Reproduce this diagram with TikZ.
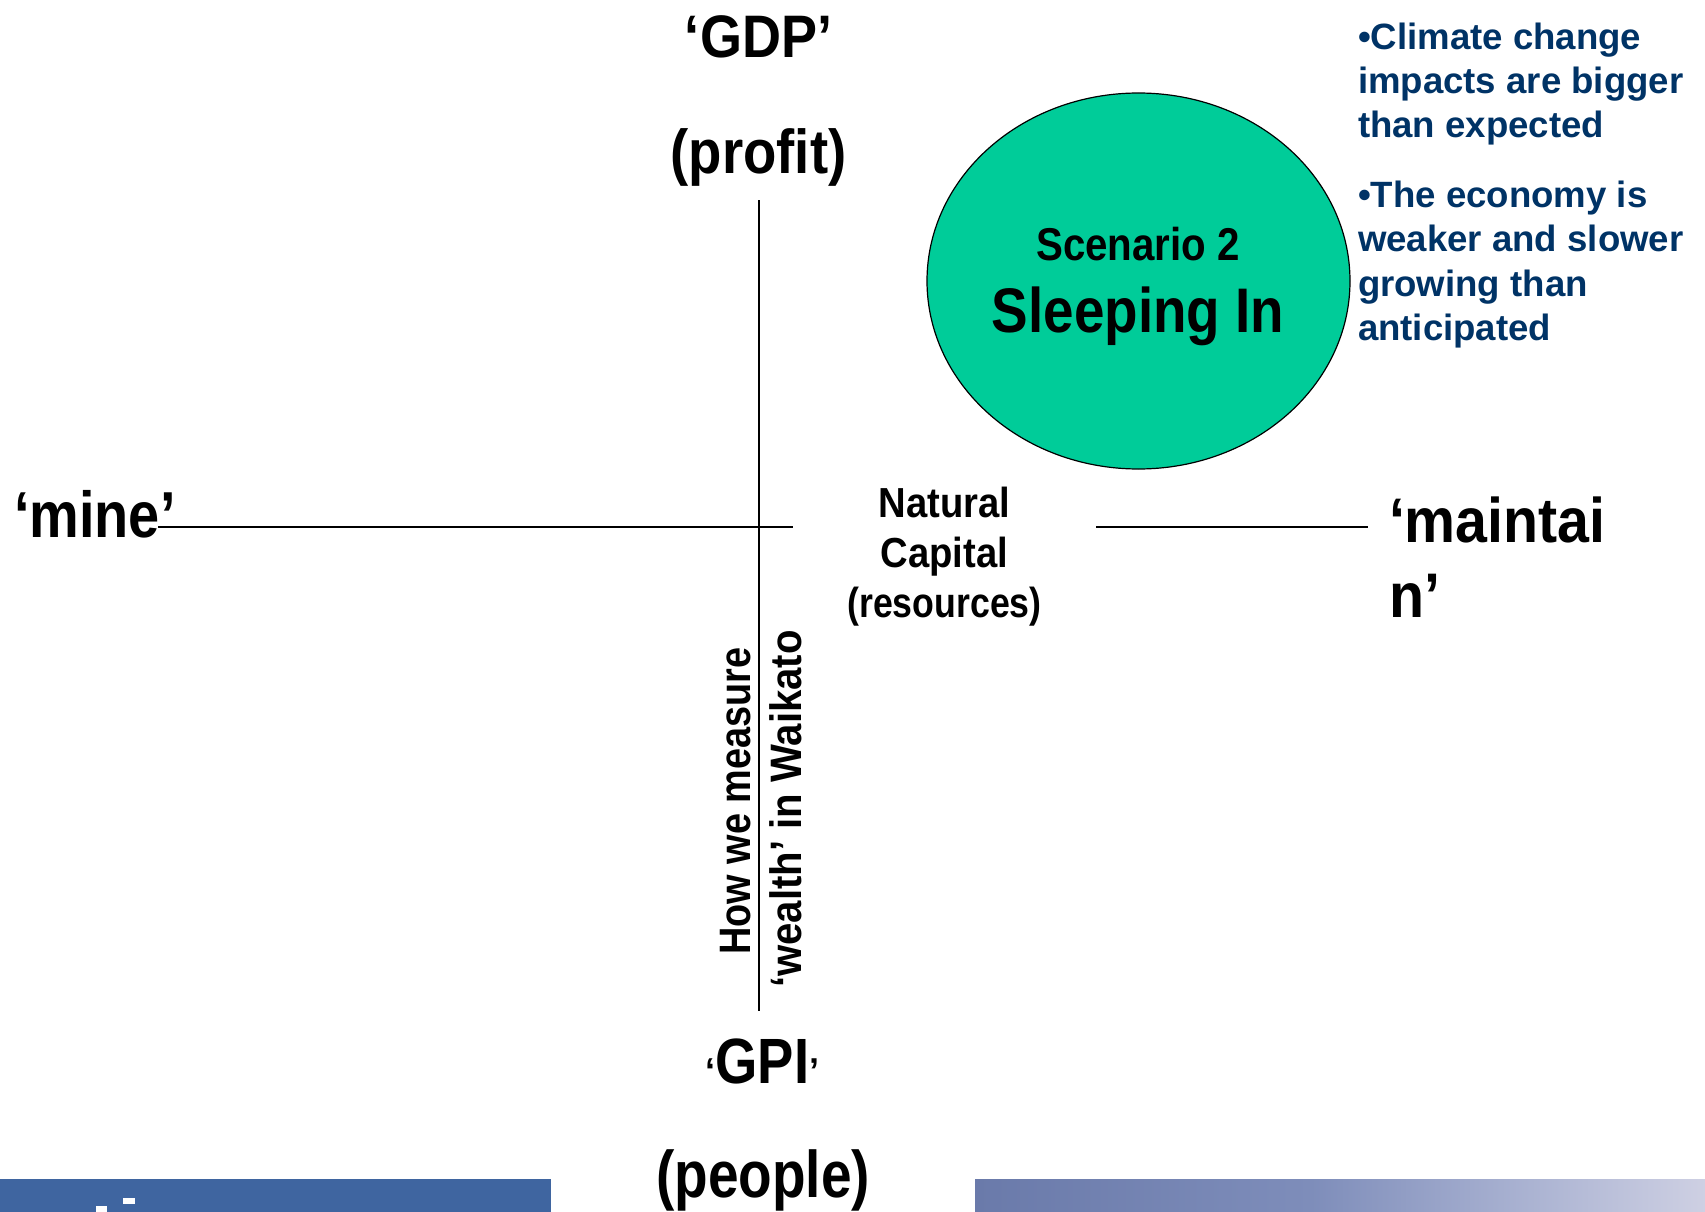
\documentclass[tikz,border=0pt]{standalone}
\usepackage{fontspec}
\usetikzlibrary{shapes.geometric}
\setmainfont{Liberation Sans}
\definecolor{navytext}{HTML}{003366}
\definecolor{scenfill}{HTML}{00CC99}
\definecolor{barblue}{HTML}{3F65A0}
\definecolor{barA}{RGB}{106,122,170}
\definecolor{barB}{RGB}{126,141,186}
\definecolor{barC}{RGB}{165,174,207}
\definecolor{barD}{RGB}{206,208,227}
\pgfdeclarehorizontalshading{barshade}{100bp}{color(0bp)=(barA); color(25bp)=(barA); color(48bp)=(barB); color(61bp)=(barC); color(75bp)=(barD); color(100bp)=(barD)}
\newcommand\fsz[1]{\fontsize{#1}{#1}\selectfont}
\newcommand\hs[2]{\scalebox{#1}[1]{#2}}
\tikzset{
  lbl/.style={inner sep=0pt, outer sep=0pt, font=\bfseries},
  bul/.style={inner sep=0pt, outer sep=0pt, font=\bfseries\fsz{36.6}, text=navytext, anchor=base west},
  axisline/.style={line width=1.6pt, black},
}
\begin{document}
\begin{tikzpicture}[x=1pt,y=-1pt]
\useasboundingbox (0,0) rectangle (1705,1212);
\fill[white] (0,0) rectangle (1705,1212);

% bottom bars
\fill[barblue] (0,1179) rectangle (551,1212);
\fill[white] (96,1206) rectangle (107,1212);
\fill[white] (123,1198) rectangle (135,1204);
\shade[shading=barshade] (975,1179) rectangle (1705,1212);

% scenario ellipse
\node[ellipse, draw=black, line width=1.2pt, fill=scenfill, minimum width=423pt, minimum height=376pt, inner sep=0pt] (scen) at (1138.5,281) {};
\node[lbl, anchor=base] (scen1) at (1138,260) {\fsz{46}\hs{0.875}{Scenario 2}};
\node[lbl, anchor=base] (scen2) at (1138,332) {\fsz{63}\hs{0.87}{Sleeping In}};

% axes
\coordinate (vtop) at (759,200);
\coordinate (vbot) at (759,1011);
\coordinate (hl1) at (158,527);
\coordinate (hl2) at (793,527);
\coordinate (hr1) at (1096,527);
\coordinate (hr2) at (1368,527);
\draw[axisline] (vtop) -- (vbot);
\draw[axisline] (hl1) -- (hl2);
\draw[axisline] (hr1) -- (hr2);

% axis labels
\node[lbl, anchor=base] (gdp) at (758.5,58) {\fsz{60}\hs{0.9}{‘GDP’}};
\node[lbl, anchor=base] (profit) at (758.5,173) {\fsz{62}\hs{0.88}{(profit)}};
\node[lbl, anchor=base] (gpi) at (762.5,1083) {{\fsz{36}‘}{\fsz{64}\hs{0.85}{GPI}}{\fsz{36}’}};
\node[lbl, anchor=base] (people) at (763,1197) {\fsz{66}\hs{0.833}{(people)}};
\node[lbl, anchor=base west] (mine) at (14,537) {\fsz{65}\hs{0.86}{‘mine’}};
\node[lbl, anchor=base west] (maint1) at (1389,542) {\fsz{63}\hs{0.91}{‘maintai}};
\node[lbl, anchor=base west] (maint2) at (1389,617) {\fsz{63}\hs{0.91}{n’}};

\node[lbl, anchor=base] (nat1) at (944.5,517) {\fsz{42}\hs{0.91}{Natural}};
\node[lbl, anchor=base] (nat2) at (944.5,567.5) {\fsz{42}\hs{0.91}{Capital}};
\node[lbl, anchor=base] (nat3) at (944.5,617) {\fsz{42}\hs{0.85}{(resources)}};

\node[lbl, anchor=base, rotate=90] (how1) at (750,801) {\fsz{44}\hs{0.86}{How we measure}};
\node[lbl, anchor=base, rotate=90] (how2) at (801,809) {\fsz{44}\hs{0.912}{‘wealth’ in Waikato}};

% bullet text
\node[bul] (b1) at (1358,50) {•Climate change};
\node[bul] (b2) at (1358,94) {impacts are bigger};
\node[bul] (b3) at (1358,138) {than expected};
\node[bul] (b4) at (1358,207) {•The economy is};
\node[bul] (b5) at (1358,251) {weaker and slower};
\node[bul] (b6) at (1358,296) {growing than};
\node[bul] (b7) at (1358,340) {anticipated};
\end{tikzpicture}
\end{document}
